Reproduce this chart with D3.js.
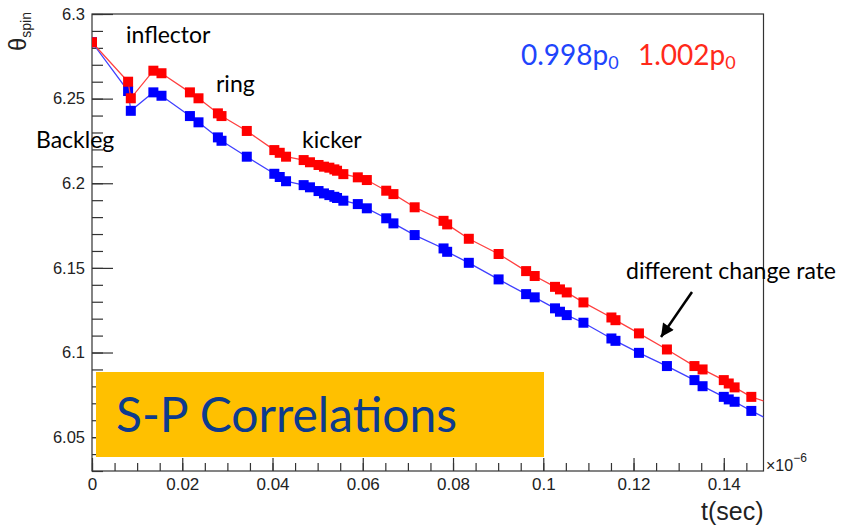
<!DOCTYPE html>
<html>
<head>
<meta charset="utf-8">
<script src="https://cdn.jsdelivr.net/npm/d3@7"></script>
<style>
  body { margin: 0; background: #fff; }
  svg { display: block; }
  .axis text { font-family: "Liberation Sans", Arial, sans-serif; fill: #222; }
  .axis path, .axis line { stroke: #333; stroke-width: 1.2; }
  .note { font-family: Lato, "Open Sans", sans-serif; fill: #000; }
</style>
</head>
<body>
<svg id="chart" width="842" height="528"></svg>
<script>
// time in units of 1e-6 s, last entry sits just outside the frame so the line runs to the edge
let timeVals = [0, 0.0080, 0.0086, 0.0136, 0.0154, 0.0217, 0.0236, 0.0279, 0.0287, 0.0343,
  0.0404, 0.0416, 0.0430, 0.0469, 0.0483, 0.0502, 0.0514, 0.0526, 0.0537, 0.0543,
  0.0557, 0.0589, 0.0609, 0.0652, 0.0668, 0.0715, 0.0779, 0.0787, 0.0835, 0.0901,
  0.0962, 0.0981, 0.1026, 0.1037, 0.1052, 0.1089, 0.1151, 0.1160, 0.1212, 0.1274,
  0.1335, 0.1353, 0.1400, 0.1411, 0.1424, 0.1461, 0.1505];

// 1.002 p0 (red)
let spinHigh = [6.2833, 6.2600, 6.2502, 6.2665, 6.2650, 6.2537, 6.2502, 6.2413, 6.2397, 6.2309,
  6.2196, 6.2180, 6.2157, 6.2137, 6.2124, 6.2108, 6.2098, 6.2092, 6.2082, 6.2074,
  6.2054, 6.2035, 6.2019, 6.1956, 6.1936, 6.1858, 6.1778, 6.1757, 6.1672, 6.1582,
  6.1481, 6.1452, 6.1388, 6.1373, 6.1355, 6.1296, 6.1207, 6.1191, 6.1113, 6.1018,
  6.0920, 6.0900, 6.0837, 6.0817, 6.0794, 6.0738, 6.0699];

// 0.998 p0 (blue)
let spinLow = [6.2833, 6.2545, 6.2428, 6.2537, 6.2517, 6.2397, 6.2360, 6.2271, 6.2251, 6.2157,
  6.2056, 6.2037, 6.2012, 6.1989, 6.1976, 6.1954, 6.1940, 6.1930, 6.1920, 6.1913,
  6.1897, 6.1877, 6.1852, 6.1793, 6.1763, 6.1694, 6.1615, 6.1595, 6.1530, 6.1432,
  6.1345, 6.1326, 6.1261, 6.1241, 6.1221, 6.1176, 6.1083, 6.1069, 6.0998, 6.0920,
  6.0837, 6.0801, 6.0738, 6.0723, 6.0709, 6.0655, 6.0596];

let xTickVals = [0, 0.02, 0.04, 0.06, 0.08, 0.1, 0.12, 0.14];
let yTickVals = [6.05, 6.1, 6.15, 6.2, 6.25, 6.3];

let frameL = 92, frameR = 763.5, frameT = 14, frameB = 471;

let svg = d3.select("#chart");

let x = d3.scaleLinear().domain([0, 0.1488]).range([frameL, frameR]);
let y = d3.scaleLinear().domain([6.03, 6.3]).range([frameB, frameT]);

let fmt = d => String(+d.toFixed(3));

// frame
svg.append("rect")
  .attr("x", frameL).attr("y", frameT)
  .attr("width", frameR - frameL).attr("height", frameB - frameT)
  .attr("fill", "none").attr("stroke", "#333").attr("stroke-width", 1.2);

// minor ticks first, then major with labels
svg.append("g").attr("class", "axis")
  .attr("transform", `translate(0,${frameB})`)
  .call(d3.axisBottom(x).tickValues(d3.range(0, 0.1488, 0.005)).tickSize(-8).tickFormat(""))
  .call(g => g.select(".domain").remove());
svg.append("g").attr("class", "axis")
  .attr("transform", `translate(0,${frameB})`)
  .call(d3.axisBottom(x).tickValues(xTickVals).tickSize(-13).tickPadding(7).tickFormat(fmt))
  .call(g => g.selectAll("text").attr("font-size", 17))
  .call(g => g.select(".domain").remove());

svg.append("g").attr("class", "axis")
  .attr("transform", `translate(${frameL},0)`)
  .call(d3.axisLeft(y).tickValues(d3.range(6.03, 6.3001, 0.01)).tickSize(-11).tickFormat(""))
  .call(g => g.select(".domain").remove());
svg.append("g").attr("class", "axis")
  .attr("transform", `translate(${frameL},0)`)
  .call(d3.axisLeft(y).tickValues(yTickVals).tickSize(-21).tickPadding(7).tickFormat(fmt))
  .call(g => g.selectAll("text").attr("font-size", 16.5))
  .call(g => g.select(".domain").remove());

// axis titles
let expo = svg.append("text")
  .attr("x", 766).attr("y", 471)
  .attr("font-family", "Liberation Sans, Arial, sans-serif")
  .attr("font-size", 16).attr("fill", "#222");
expo.append("tspan").text("×10");
expo.append("tspan").attr("dy", -9).attr("font-size", 12).text("−6");

svg.append("text")
  .attr("x", frameR).attr("y", 520)
  .attr("text-anchor", "end")
  .attr("font-family", "Liberation Sans, Arial, sans-serif")
  .attr("font-size", 25).attr("fill", "#222")
  .text("t(sec)");

let ylab = svg.append("text")
  .attr("transform", "translate(26,12) rotate(-90)")
  .attr("text-anchor", "end")
  .attr("font-family", "Liberation Sans, Arial, sans-serif")
  .attr("fill", "#222");
ylab.append("tspan").attr("font-size", 24).text("θ");
ylab.append("tspan").attr("font-size", 14).attr("dy", 5).text("spin");

// graphs
let defs = svg.append("defs");
defs.append("clipPath").attr("id", "frame")
  .append("rect").attr("x", frameL).attr("y", frameT)
  .attr("width", frameR - frameL).attr("height", frameB - frameT);

let plot = svg.append("g").attr("clip-path", "url(#frame)");

let series = [
  { vals: spinLow, mark: "#0000ff", line: "#4040ff" },
  { vals: spinHigh, mark: "#ff0000", line: "#ff4040" }
];

series.forEach(function(s) {
  let pts = timeVals.map((t, i) => [t, s.vals[i]]);
  plot.append("path")
    .datum(pts)
    .attr("fill", "none")
    .attr("stroke", s.line)
    .attr("stroke-width", 1.3)
    .attr("d", d3.line().x(d => x(d[0])).y(d => y(d[1])));
  plot.selectAll(null)
    .data(pts)
    .enter().append("rect")
    .attr("x", d => x(d[0]) - 5)
    .attr("y", d => y(d[1]) - 5)
    .attr("width", 10).attr("height", 10)
    .attr("fill", s.mark);
});

// legend
let leg = svg.append("g").attr("class", "note").attr("font-size", 28);
let lowLab = leg.append("text").attr("x", 521).attr("y", 65).style("fill", "#1f45fc");
lowLab.append("tspan").text("0.998p");
lowLab.append("tspan").attr("font-size", 18).attr("dy", 4).text("0");
let highLab = leg.append("text").attr("x", 638).attr("y", 65).style("fill", "#ff2a1a");
highLab.append("tspan").text("1.002p");
highLab.append("tspan").attr("font-size", 18).attr("dy", 4).text("0");

// annotations
let notes = svg.append("g").attr("class", "note").attr("font-size", 23);
notes.append("text").attr("x", 126).attr("y", 43).text("inflector");
notes.append("text").attr("x", 216).attr("y", 92).text("ring");
notes.append("text").attr("x", 36).attr("y", 148).text("Backleg");
notes.append("text").attr("x", 302).attr("y", 148).text("kicker");
notes.append("text").attr("x", 626).attr("y", 279).text("different change rate");

defs.append("marker")
  .attr("id", "head")
  .attr("viewBox", "0 0 10 10")
  .attr("refX", 10).attr("refY", 5)
  .attr("markerWidth", 15).attr("markerHeight", 13)
  .attr("markerUnits", "userSpaceOnUse")
  .attr("orient", "auto")
  .append("path").attr("d", "M0,0L10,5L0,10z").attr("fill", "#000");

svg.append("line")
  .attr("x1", 692).attr("y1", 292)
  .attr("x2", 661).attr("y2", 337)
  .attr("stroke", "#000").attr("stroke-width", 2.5)
  .attr("marker-end", "url(#head)");

// title box
svg.append("rect")
  .attr("x", 96).attr("y", 372)
  .attr("width", 448).attr("height", 85)
  .attr("fill", "#ffc000");
svg.append("text")
  .attr("x", 116).attr("y", 432)
  .attr("font-family", "Lato, 'Open Sans', sans-serif")
  .attr("font-size", 48)
  .attr("fill", "#0d3b8e")
  .text("S-P Correlations");
</script>
</body>
</html>
